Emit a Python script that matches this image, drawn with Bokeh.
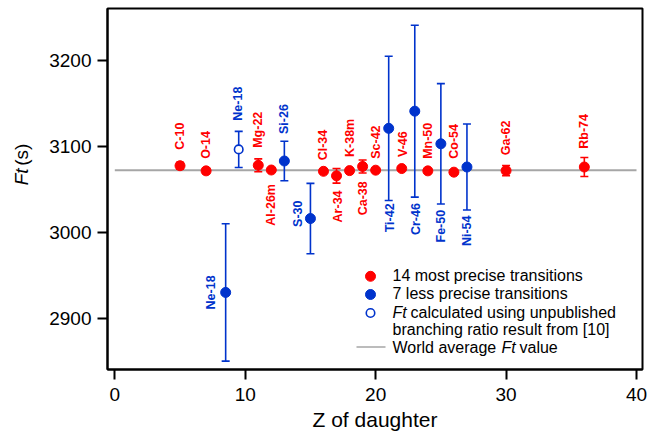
import math
from bokeh.plotting import figure
from bokeh.layouts import row
from bokeh.models import ColumnDataSource, Whisker, TeeHead, Range1d, Label, FixedTicker
from bokeh.embed import file_html
from bokeh.resources import INLINE
from bokeh.core.properties import value

# ---------------- data ----------------
precise_names = ["C-10", "O-14", "Mg-22", "Al-26m", "Cl-34", "Ar-34", "K-38m",
                 "Ca-38", "Sc-42", "V-46", "Mn-50", "Co-54", "Ga-62", "Rb-74"]
precise_z = [5, 7, 11, 12, 16, 17, 18, 19, 20, 22, 24, 26, 30, 36]
precise_ft = [3077.5, 3071.5, 3078.0, 3072.5, 3071.0, 3065.7, 3071.8,
              3076.6, 3072.3, 3074.2, 3071.5, 3070.0, 3071.8, 3076.0]
precise_err = [4.0, 3.2, 7.5, 1.0, 1.8, 8.5, 2.0, 7.5, 2.3, 2.0, 2.1, 2.6, 6.0, 11.0]

less_names = ["Ne-18", "Si-26", "S-30", "Ti-42", "Cr-46", "Fe-50", "Ni-54"]
less_z = [8.5, 13, 15, 21, 23, 25, 27]
less_ft = [2930.0, 3083.0, 3016.0, 3121.0, 3141.0, 3103.0, 3076.0]
less_err = [80.0, 23.0, 41.0, 84.0, 100.0, 70.0, 50.0]

open_names = ["Ne-18"]
open_z = [9.5]
open_ft = [3096.5]
open_err = [21.0]

world_avg = 3072.3
world_avg_z = [0, 40]

x_ticks = [0, 10, 20, 30, 40]
y_ticks = [2900, 3000, 3100, 3200]

legend_labels = ["14 most precise transitions", "7 less precise transitions",
                 "calculated using unpublished", "branching ratio result from [10]",
                 "World average", "value"]

# ---------------- label layout (pixel offsets, side) ----------------
precise_dx = [0, 0, 0, 0, 0, 1, 0, 0, 0, 1, 0, 0, 0, 0]
precise_dy = [-16, -12, -17.5, 14, -11, 14.6, -13.6, 14.8, -11.4, -11.6, -12, -13.4, -15.3, -18.3]
precise_side = ["a", "a", "a", "b", "a", "b", "a", "b", "a", "a", "a", "a", "a", "a"]
less_dx = [-15, 0, -12.7, 1, 1, 0, 0]
less_dy = [0, -27, -18, 75, 92, 66, 48.5]
less_side = ["c", "a", "b", "b", "b", "b", "b"]
open_dx = [-1]
open_dy = [-28.7]
open_side = ["a"]

RED = "#ff0000"
BLUE = "#0033cc"
GRAY = "#a6a6a6"
FONT = "Liberation Sans"

W, H = 647, 436
LW = 40                      # width of the y-title strip
FL, FR, FT, FB = 107, 642, 8, 369   # frame edges in page pixels
X0, X1 = -0.56, 40.46
Y0, Y1 = 2840.3, 3260.5


def sx2d(sx):
    return X0 + (sx - FL) / (FR - FL) * (X1 - X0)


def sy2d(sy):
    return Y1 - (sy - FT) / (FB - FT) * (Y1 - Y0)


p = figure(width=W - LW, height=H, output_backend="svg", toolbar_location=None,
           x_range=Range1d(X0, X1), y_range=Range1d(Y0, Y1),
           min_border_left=FL - LW, min_border_right=W - FR,
           min_border_top=FT, min_border_bottom=H - FB,
           title=None, background_fill_color="white", border_fill_color="white")
p.grid.visible = False
p.outline_line_color = "black"
p.outline_line_width = 2
for ax in (p.xaxis[0], p.yaxis[0]):
    ax.axis_line_width = 2
    ax.axis_line_color = "black"
    ax.major_tick_line_width = 2
    ax.major_tick_line_color = "black"
    ax.major_tick_out = 10
    ax.major_tick_in = 0
    ax.minor_tick_out = 0
    ax.minor_tick_in = 0
    ax.major_label_text_font = FONT
    ax.major_label_text_font_size = "19px"
    ax.major_label_text_color = "black"
p.xaxis.ticker = FixedTicker(ticks=x_ticks)
p.yaxis.ticker = FixedTicker(ticks=y_ticks)
p.xaxis.major_label_standoff = 8
p.yaxis.major_label_standoff = 6
p.xaxis.axis_label = "Z of daughter"
p.xaxis.axis_label_text_font = FONT
p.xaxis.axis_label_text_font_size = "21px"
p.xaxis.axis_label_text_font_style = "normal"
p.xaxis.axis_label_text_color = "black"
p.xaxis.axis_label_standoff = 4

# world average line
wl = p.line(x=world_avg_z, y=[world_avg, world_avg], line_color=GRAY, line_width=2)
wl.level = "underlay"


def add_errbars(z, ft, err, color):
    src = ColumnDataSource(dict(x=z, lo=[f - e for f, e in zip(ft, err)],
                                hi=[f + e for f, e in zip(ft, err)]))
    w = Whisker(source=src, base="x", lower="lo", upper="hi", dimension="height",
                line_color=color, line_width=1.6, level="underlay",
                upper_head=TeeHead(size=8, line_color=color, line_width=1.6),
                lower_head=TeeHead(size=8, line_color=color, line_width=1.6))
    p.add_layout(w)


add_errbars(precise_z, precise_ft, precise_err, RED)
add_errbars(less_z, less_ft, less_err, BLUE)
add_errbars(open_z, open_ft, open_err, BLUE)

p.scatter(x=precise_z, y=precise_ft, size=10, marker="circle", fill_color=RED, line_color=RED)
p.scatter(x=less_z, y=less_ft, size=10, marker="circle", fill_color=BLUE, line_color=BLUE)
p.scatter(x=open_z, y=open_ft, size=8.5, marker="circle", fill_color="white", line_color=BLUE, line_width=1.6)


def add_labels(names, z, ft, dxs, dys, sides, color):
    for side, align in (("a", "left"), ("b", "right"), ("c", "center")):
        idx = [i for i, s in enumerate(sides) if s == side]
        if not idx:
            continue
        src = ColumnDataSource(dict(x=[z[i] for i in idx], y=[ft[i] for i in idx],
                                    t=[names[i] for i in idx],
                                    xo=[dxs[i] for i in idx], yo=[dys[i] for i in idx]))
        p.text(x="x", y="y", text="t", x_offset="xo", y_offset="yo", source=src,
               angle=math.pi / 2, text_align=align, text_baseline="middle",
               text_font=value(FONT), text_font_style="bold", text_font_size="12.5px",
               text_color=color)


add_labels(precise_names, precise_z, precise_ft, precise_dx, precise_dy, precise_side, RED)
add_labels(less_names, less_z, less_ft, less_dx, less_dy, less_side, BLUE)
add_labels(open_names, open_z, open_ft, open_dx, open_dy, open_side, BLUE)

# ---------------- legend (drawn by hand) ----------------
p.scatter(x=[sx2d(370)], y=[sy2d(275.8)], size=10, marker="circle", fill_color=RED, line_color=RED)
p.scatter(x=[sx2d(370)], y=[sy2d(294.0)], size=10, marker="circle", fill_color=BLUE, line_color=BLUE)
p.scatter(x=[sx2d(370)], y=[sy2d(312.5)], size=8.5, marker="circle", fill_color="white",
          line_color=BLUE, line_width=1.6)
p.line(x=[sx2d(356), sx2d(385)], y=[sy2d(346.5), sy2d(346.5)], line_color=GRAY, line_width=1.5)


def add_text(sx, sy, txt, size="16px", style="normal"):
    p.add_layout(Label(x=sx2d(sx), y=sy2d(sy), text=txt, text_font=FONT, text_font_size=size,
                       text_font_style=style, text_align="left", text_baseline="middle",
                       text_color="black"))


add_text(392, 275.3, legend_labels[0])
add_text(392, 293.3, legend_labels[1])
add_text(392, 311.7, "Ft", style="italic")
add_text(410, 311.7, legend_labels[2])
add_text(392, 329.3, legend_labels[3])
add_text(392, 346.7, legend_labels[4])
add_text(501, 346.7, "Ft", style="italic")
add_text(519, 346.7, legend_labels[5])

# ---------------- y title strip (mixed italic "Ft (s)") ----------------
yt = figure(width=LW, height=H, output_backend="svg", toolbar_location=None,
            x_range=Range1d(0, LW), y_range=Range1d(0, H), min_border=0,
            x_axis_location=None, y_axis_location=None, title=None,
            outline_line_color=None, background_fill_color="white", border_fill_color="white")
yt.grid.visible = False
yt.text(x=[20.5], y=[H - 213.5], text=["Ft"], angle=math.pi / 2, text_align="left",
        text_baseline="middle", text_font=value(FONT), text_font_style="italic",
        text_font_size="19px", text_color="black")
yt.text(x=[20.5], y=[H - 190.0], text=["(s)"], angle=math.pi / 2, text_align="left",
        text_baseline="middle", text_font=value(FONT), text_font_style="normal",
        text_font_size="19px", text_color="black")

layout = row(yt, p, spacing=0)
open("out.html", "w").write(file_html(layout, INLINE))
